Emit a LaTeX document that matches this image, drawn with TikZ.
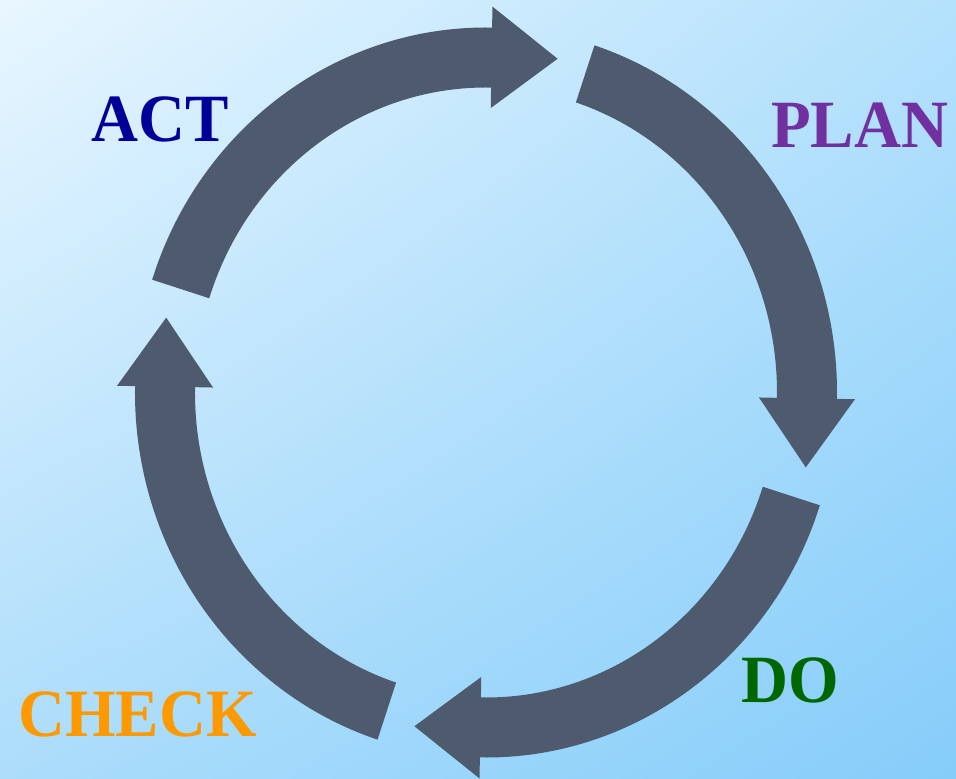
\documentclass[tikz,border=0pt]{standalone}
\usepackage{fontspec}
\setmainfont{Liberation Serif}
\usepackage{tikz}
\usetikzlibrary{calc,shadings}
\definecolor{arrowgray}{HTML}{4E5A6E}
\definecolor{actblue}{HTML}{000099}
\definecolor{planpurple}{HTML}{7030A0}
\definecolor{dogreen}{HTML}{006600}
\definecolor{checkorange}{HTML}{FF9900}
\definecolor{bgtl}{HTML}{E8F6FF}
\definecolor{bgtr}{HTML}{B4E1FC}
\definecolor{bgbl}{HTML}{ACDDFB}
\definecolor{bgbr}{HTML}{86CDFA}
\tikzset{cyclearrow/.style={fill=arrowgray},
  stagelabel/.style={font=\fontsize{65}{70}\selectfont\bfseries, inner sep=0pt, anchor=base, yscale=1.04},}

\begin{document}
\begin{tikzpicture}[x=1pt, y=1pt]
\useasboundingbox (-486,-386.5) rectangle (470,392.5);
\shade[upper left=bgtl, upper right=bgtr, lower left=bgbl, lower right=bgbr]
  (-486,-386.5) rectangle (470,392.5);
% four arcs of the cycle, clockwise
\foreach \a [evaluate=\a as \b using \a-73] in {162,72,-18,-108}
  \fill[cyclearrow] (\a:351 and 365) arc[start angle=\a, end angle=\b, x radius=351, y radius=365]
    -- (\b:369 and 386) -- ($(\b:321 and 335)+({66*cos(\b-90)},{69*sin(\b-90)})$)
    -- (\b:273 and 284.5) -- (\b:291 and 305)
    arc[start angle=\b, end angle=\a, x radius=291, y radius=305] -- cycle;
\node[stagelabel, text=actblue] (act) at (-325.5,250.5) {ACT};
\node[stagelabel, text=planpurple] (plan) at (373.5,244.5) {PLAN};
\node[stagelabel, text=dogreen] (do) at (304.5,-310) {DO};
\node[stagelabel, text=checkorange] (check) at (-348.5,-343.5) {CHECK};
\end{tikzpicture}
\end{document}
